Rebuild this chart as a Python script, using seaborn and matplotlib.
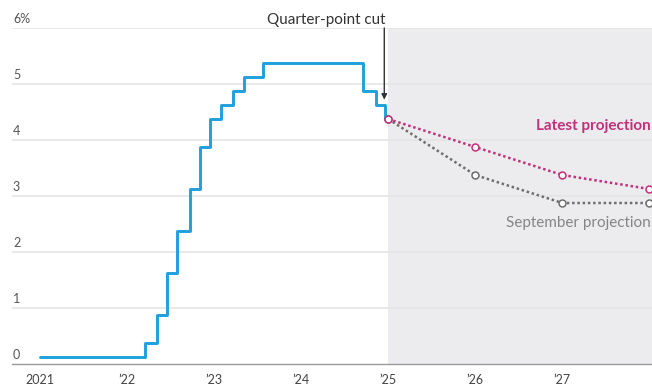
import matplotlib
matplotlib.use("Agg")
import matplotlib.pyplot as plt
import matplotlib.transforms as mtransforms
import seaborn as sns
import pandas as pd

# Federal funds target range midpoint, percent (decision dates as decimal years)
rate_dates = [2021.0, 2022.21, 2022.34, 2022.455, 2022.57, 2022.72, 2022.84, 2022.955,
              2023.085, 2023.22, 2023.34, 2023.565, 2024.715, 2024.855, 2024.96, 2025.0]
rate_values = [0.125, 0.375, 0.875, 1.625, 2.375, 3.125, 3.875, 4.375,
               4.625, 4.875, 5.125, 5.375, 4.875, 4.625, 4.375, 4.375]

# Median projections for the end of each year
proj_years = [2025, 2026, 2027, 2028]
latest_proj = [4.375, 3.875, 3.375, 3.125]
september_proj = [4.375, 3.375, 2.875, 2.875]

tick_years = [2021, 2022, 2023, 2024, 2025, 2026, 2027]
tick_labels = ["2021", "\u201922", "\u201923", "\u201924", "\u201925", "\u201926", "\u201927"]
y_values = [0, 1, 2, 3, 4, 5, 6]
y_labels = ["0", "1", "2", "3", "4", "5", "6%"]

BLUE = "#1fa0dc"
MAGENTA = "#c2307c"
GRAY_LINE = "#6e6e6e"

sns.set_style("white")
plt.rcParams["font.family"] = ["Lato", "DejaVu Sans"]

fig = plt.figure(figsize=(6.52, 3.87), dpi=100)
ax = fig.add_axes([12 / 652, 23 / 387, 640 / 652, 336 / 387])

x_left, x_right = 2020.679, 2028.03
ax.set_xlim(x_left, x_right)
ax.set_ylim(0, 6)

# Projection period shading and gridlines
ax.axvspan(2025, x_right, color="#ececee", zorder=0, lw=0)
for v in y_values[1:]:
    ax.axhline(v, color="#e3e3e3", lw=1.1, zorder=1)

rates = pd.DataFrame({"date": rate_dates, "rate": rate_values})
sns.lineplot(data=rates, x="date", y="rate", drawstyle="steps-post", color=BLUE,
             lw=2.1, estimator=None, ax=ax, zorder=4)

proj = pd.DataFrame({"year": proj_years, "latest": latest_proj, "september": september_proj})
marker_kw = dict(marker="o", markersize=5, markerfacecolor="white", markeredgewidth=1.1,
                 linestyle=(0, (1, 1.1)), lw=1.8, estimator=None, clip_on=False, ax=ax)
sns.lineplot(data=proj, x="year", y="september", color=GRAY_LINE,
             markeredgecolor=GRAY_LINE, zorder=5, **marker_kw)
sns.lineplot(data=proj, x="year", y="latest", color=MAGENTA,
             markeredgecolor=MAGENTA, zorder=6, **marker_kw)

ax.text(x_right - 0.02, 4.25, "Latest projection", color=MAGENTA, fontsize=11,
        fontweight="bold", ha="right", va="center", zorder=7)
ax.text(x_right - 0.02, 2.52, "September projection", color="#858585", fontsize=11,
        ha="right", va="center", zorder=7)

# Annotation for the December cut
ax.annotate("", xy=(2024.955, 4.72), xytext=(2024.955, 6.0),
            arrowprops=dict(arrowstyle="-|>", color="#333333", lw=1.0,
                            mutation_scale=8, shrinkA=0, shrinkB=0),
            annotation_clip=False, zorder=8)
ax.text(2024.29, 6.15, "Quarter-point cut", fontsize=11, color="#333333",
        ha="center", va="center", clip_on=False)

# Axes styling
for side in ["top", "right", "left"]:
    ax.spines[side].set_visible(False)
ax.spines["bottom"].set_color("#9a9a9a")
ax.spines["bottom"].set_linewidth(1.0)
ax.set_xticks(tick_years)
ax.set_xticklabels(tick_labels)
ax.tick_params(axis="x", length=4, width=1, color="#9a9a9a", labelsize=9,
               labelcolor="#444444", pad=3)
ax.set_yticks([])
ax.set_xlabel("")
ax.set_ylabel("")

label_tf = mtransforms.blended_transform_factory(ax.transAxes, ax.transData)
offset = mtransforms.ScaledTranslation(0, 3 / 100, fig.dpi_scale_trans)
for v, lab in zip(y_values, y_labels):
    ax.text(0.0015, v, lab, transform=label_tf + offset, fontsize=9,
            color="#555555", ha="left", va="bottom")

fig.savefig("out.png", dpi=100)
